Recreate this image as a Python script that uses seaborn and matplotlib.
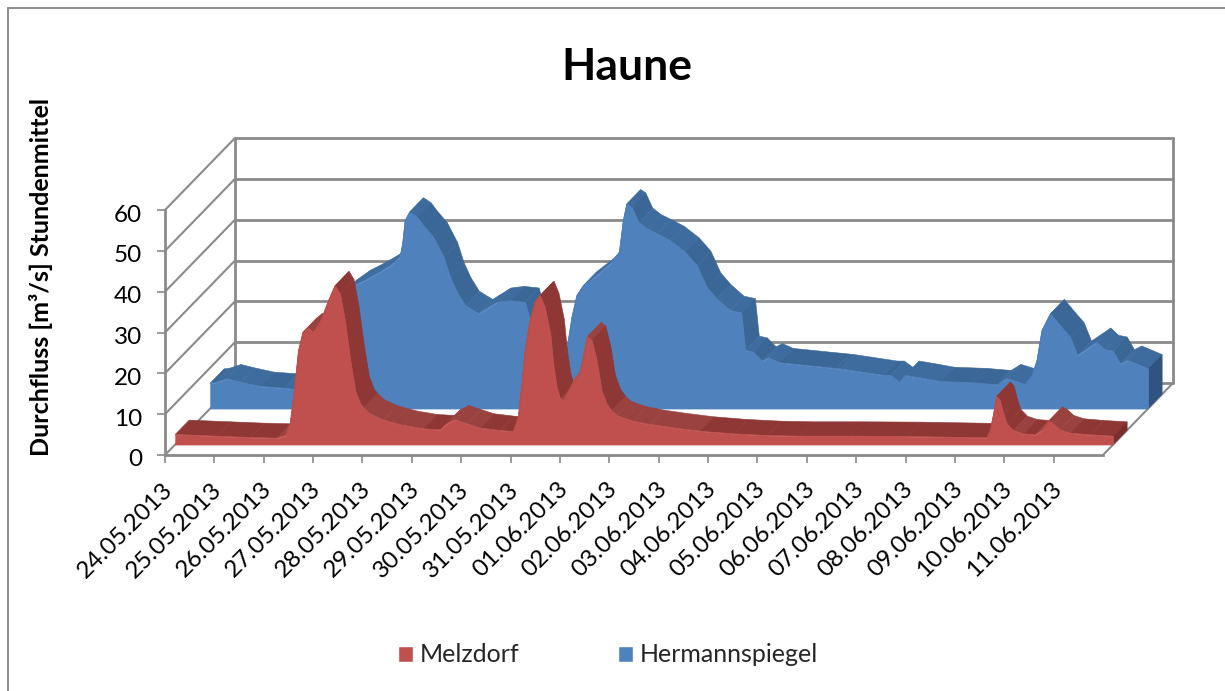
import numpy as np
import pandas as pd
import seaborn as sns
import matplotlib
matplotlib.use("Agg")
import matplotlib.pyplot as plt
import matplotlib.colors as mcolors
from matplotlib.lines import Line2D
from matplotlib.patches import Patch
from matplotlib.transforms import ScaledTranslation

# ---- data -----------------------------------------------------------
dates = ["24.05.2013", "25.05.2013", "26.05.2013", "27.05.2013", "28.05.2013",
         "29.05.2013", "30.05.2013", "31.05.2013", "01.06.2013", "02.06.2013",
         "03.06.2013", "04.06.2013", "05.06.2013", "06.06.2013", "07.06.2013",
         "08.06.2013", "09.06.2013", "10.06.2013", "11.06.2013"]
y_ticks = [0, 10, 20, 30, 40, 50, 60]

melz_day = [0, .84, 1.52, 2.06, 2.23, 2.33, 2.40, 2.50, 2.59, 2.70, 2.80, 2.90, 3.00, 3.11, 3.24, 3.34,
            3.44, 3.55, 3.65, 3.75, 3.82, 3.95, 4.09, 4.22, 4.42, 4.63, 5.03, 5.37, 5.50, 5.67, 5.91, 6.18, 6.58, 6.85,
            6.95, 7.02, 7.09, 7.19, 7.29, 7.39, 7.49, 7.60, 7.66, 7.73, 7.80, 7.87, 7.97, 8.10, 8.20,
            8.27, 8.35, 8.44, 8.54, 8.64, 8.74, 8.84, 8.95, 9.12, 9.28, 9.62, 10.09, 10.63, 11.31, 11.99, 12.66,
            13.67, 14.82, 16.44, 16.51, 16.58, 16.64, 16.71, 16.78, 16.85, 16.98, 17.18, 17.42, 17.56,
            17.69, 17.79, 17.92, 18.13, 18.53, 19.0]
melz_q = [2.45, 2.04, 1.71, 1.55, 2.2, 5.06, 11.6, 23.0, 27.5, 28.6, 27.5, 29.1, 31.8, 35.3, 38.9, 36.9,
          30.4, 20.6, 13.2, 10.0, 9.0, 7.5, 6.7, 6.0, 5.3, 4.65, 3.84, 3.6, 5.06, 6.04, 5.06, 4.0, 3.43, 3.18,
          6.7, 14.0, 23.0, 30.4, 34.9, 36.5, 33.6, 27.1, 19.8, 14.0, 11.2, 10.9, 13.2, 16.1, 17.7,
          21.4, 26.4, 25.5, 20.6, 13.2, 10.0, 8.3, 7.1, 6.3, 5.7, 4.9, 4.08, 3.27, 2.61, 2.2, 2.04,
          2.04, 1.96, 1.63, 3.43, 7.5, 11.8, 10.8, 7.5, 5.06, 3.43, 2.6, 2.37, 3.43,
          5.7, 5.06, 3.6, 2.78, 2.37, 2.04]

herm_day = [0, .10, .34, .61, 1.01, 1.49, 1.76, 2.03, 2.23, 2.43, 2.70, 2.97, 3.17, 3.44, 3.65, 3.85,
            3.90, 3.95, 4.04, 4.19, 4.32, 4.52, 4.73, 4.86, 5.0, 5.17, 5.44, 5.60, 5.81, 6.08, 6.38,
            6.48, 6.62, 6.79, 6.95, 7.06, 7.16, 7.25, 7.33, 7.43, 7.56, 7.87, 8.10, 8.29, 8.37, 8.44,
            8.54, 8.68, 8.85, 9.05, 9.32, 9.62, 9.86, 10.06, 10.26, 10.53, 10.76, 10.84, 11.0, 11.18,
            11.31, 11.53, 12.68, 12.76, 13.64, 13.78, 13.97, 14.08, 14.38, 14.79, 15.46, 15.94, 16.14,
            16.51, 16.65, 16.75, 16.85, 17.02, 17.24, 17.42, 17.57, 17.96, 18.12, 18.29, 18.44, 18.59, 19.0]
herm_q = [6.2, 6.3, 7.27, 6.45, 5.4, 4.98, 4.57, 6.0, 15.0, 22.4, 28.1, 30.4, 31.6, 33.4, 35.0, 37.2,
          40.3, 46.0, 48.1, 46.9, 44.8, 42.0, 37.1, 32.2, 28.5, 25.2, 23.2, 24.4, 26.0, 26.4, 26.0,
          21.6, 14.2, 7.7, 5.2, 6.0, 9.3, 16.2, 22.4, 27.7, 30.1, 33.0, 35.4, 38.3, 46.0, 50.1,
          49.3, 45.6, 44.0, 42.8, 41.1, 38.3, 35.0, 29.7, 26.9, 24.0, 23.4, 14.2, 13.8, 11.6,
          12.4, 11.2, 9.8, 9.7, 8.1, 8.1, 6.4, 8.1, 7.5, 6.6, 6.3, 5.8, 7.3,
          5.9, 8.1, 11.8, 19.1, 23.2, 20.0, 17.5, 13.0, 16.2, 14.4, 14.0, 10.9, 11.8, 9.7]

# ---- style ----------------------------------------------------------
sns.set_theme(style="white")
plt.rcParams["font.family"] = ["Lato", "DejaVu Sans"]
W, H = 1225, 691
GRID = "#8a8a8a"
RED, RED_D, RED_L, RED_S = "#c0504d", "#8e3735", "#9a4240", "#7a2f2d"
BLUE, BLUE_D, BLUE_L, BLUE_S = "#4f81bd", "#3b6797", "#3f6c9e", "#2f5480"

fig = plt.figure(figsize=(W / 100, H / 100), dpi=100, facecolor="white")
ax = fig.add_axes([165 / W, 1 - 455 / H, (1103 - 165) / W, (455 - 210) / H])
ax.set_xlim(0, 19)
ax.set_ylim(0, 60)
ax.patch.set_visible(False)

# depth of the 3D box, in data units of the two axes
PXX, PXY = (1103 - 165) / 19, (455 - 210) / 60
DX = 70 / PXX
DY = 72 / PXY


def proj(d, q, depth):
    return np.asarray(d, float) + depth * DX, np.asarray(q, float) + depth * DY


side = dict(color=GRID, lw=1.5, clip_on=False, solid_capstyle="round", zorder=1)
wall = dict(color=GRID, lw=2.0, clip_on=False, solid_capstyle="round", zorder=1)
# back wall and side wall grid
for v in y_ticks:
    x0, y0 = proj(0, v, 0)
    x1, y1 = proj(0, v, 1)
    x2, _ = proj(19, v, 1)
    ax.plot([x0, x1], [y0, y1], **side)
    ax.plot([x1, x2], [y1, y1], **wall)
for d in (0, 19):
    x1, y1 = proj(d, 0, 1)
    ax.plot([x1, x1], [y1, y1 + 60], **wall)
x0, y0 = proj(19, 0, 0)
x1, y1 = proj(19, 0, 1)
ax.plot([x0, x1], [y0, y1], **side)

long_df = pd.DataFrame({
    "day": herm_day + melz_day,
    "q": herm_q + melz_q,
    "series": ["Hermannspiegel"] * len(herm_day) + ["Melzdorf"] * len(melz_day),
})


def area3d(day, q, depth, col, dark, light, end, z):
    day, q = np.asarray(day), np.asarray(q)
    fx, fy = proj(day, q, depth)
    bx, by = proj(day, q, depth + 0.2)
    # top ribbon, one facet per segment, shaded by its slope in pixels
    for i in range(len(day) - 1):
        slope = (q[i + 1] - q[i]) * PXY / ((day[i + 1] - day[i]) * PXX)
        shade = light if (-1.0 < slope < -0.12 or slope > 0.12) else dark
        ax.fill([fx[i], fx[i + 1], bx[i + 1], bx[i]], [fy[i], fy[i + 1], by[i + 1], by[i]],
                facecolor=shade, edgecolor=shade, lw=0.4, clip_on=False, zorder=z)
    # right end face
    ex, ey = proj(day[-1], 0, depth)
    ex2, ey2 = proj(day[-1], 0, depth + 0.2)
    ax.fill([ex, ex2, bx[-1], fx[-1]], [ey, ey2, by[-1], fy[-1]],
            facecolor=end, edgecolor=end, lw=0.4, clip_on=False, zorder=z)
    # front face
    _, base = proj(day, np.zeros_like(q), depth)
    ax.fill_between(fx, base, fy, facecolor=col, edgecolor=col, lw=0.4, clip_on=False, zorder=z + 1)


area3d(herm_day, herm_q, 0.645, BLUE, BLUE_D, BLUE_L, BLUE_S, 3)
area3d(melz_day, melz_q, 0.145, RED, RED_D, RED_L, RED_S, 6)

# front outlines through seaborn
for name, depth, col, z in (("Hermannspiegel", 0.645, BLUE, 5), ("Melzdorf", 0.145, RED, 8)):
    sub = long_df[long_df.series == name]
    px, py = proj(sub.day, sub.q, depth)
    sns.lineplot(x=px, y=py, color=col, lw=0.6, sort=False, estimator=None, ax=ax, zorder=z, clip_on=False)

# axes
sns.despine(ax=ax, top=True, right=True)
ax.spines["left"].set_color(GRID)
ax.spines["left"].set_linewidth(2.0)
ax.spines["bottom"].set_color(GRID)
ax.spines["bottom"].set_linewidth(2.0)
ax.set_xticks(range(len(dates)))
ax.set_xticklabels(dates, rotation=45, ha="right", va="top", rotation_mode="anchor", fontsize=17.5, color="black")
ax.set_yticks(y_ticks)
ax.set_yticklabels([str(v) for v in y_ticks], fontsize=17.5, color="black")
ax.tick_params(axis="x", direction="out", length=5.5, width=1.2, color=GRID, pad=10, bottom=True)
ax.tick_params(axis="y", direction="out", length=5.5, width=1.2, color=GRID, pad=11, left=True)
for lab in ax.get_xticklabels():
    lab.set_transform(lab.get_transform() + ScaledTranslation(-3 / 100, -2 / 100, fig.dpi_scale_trans))
for lab in ax.get_yticklabels():
    lab.set_transform(lab.get_transform() + ScaledTranslation(0, -3 / 100, fig.dpi_scale_trans))
ax.set_xlabel("")
ax.set_ylabel("")

fig.text(41 / W, 1 - 277 / H, "Durchfluss [m³/s] Stundenmittel", rotation=90, ha="center", va="center",
         fontsize=18, fontweight="bold", color="black")
fig.text(627 / W, 1 - 67 / H, "Haune", ha="center", va="center", fontsize=32, fontweight="bold", color="black")

# legend
fig.legend(handles=[Patch(facecolor=RED, label="Melzdorf"), Patch(facecolor=BLUE, label="Hermannspiegel")],
           loc="center", bbox_to_anchor=(608 / W, 1 - 655 / H), ncol=2, frameon=False, fontsize=18,
           handlelength=0.6, handleheight=0.6, handletextpad=0.28, columnspacing=3.95, borderpad=0)

# chart border
for xs, ys in (((8, 8), (8, 691)), ((8, 1225), (8, 8))):
    fig.add_artist(Line2D([x / W for x in xs], [1 - y / H for y in ys], color="#8c8c8c", lw=1.4))

fig.savefig("out.png", dpi=100)
